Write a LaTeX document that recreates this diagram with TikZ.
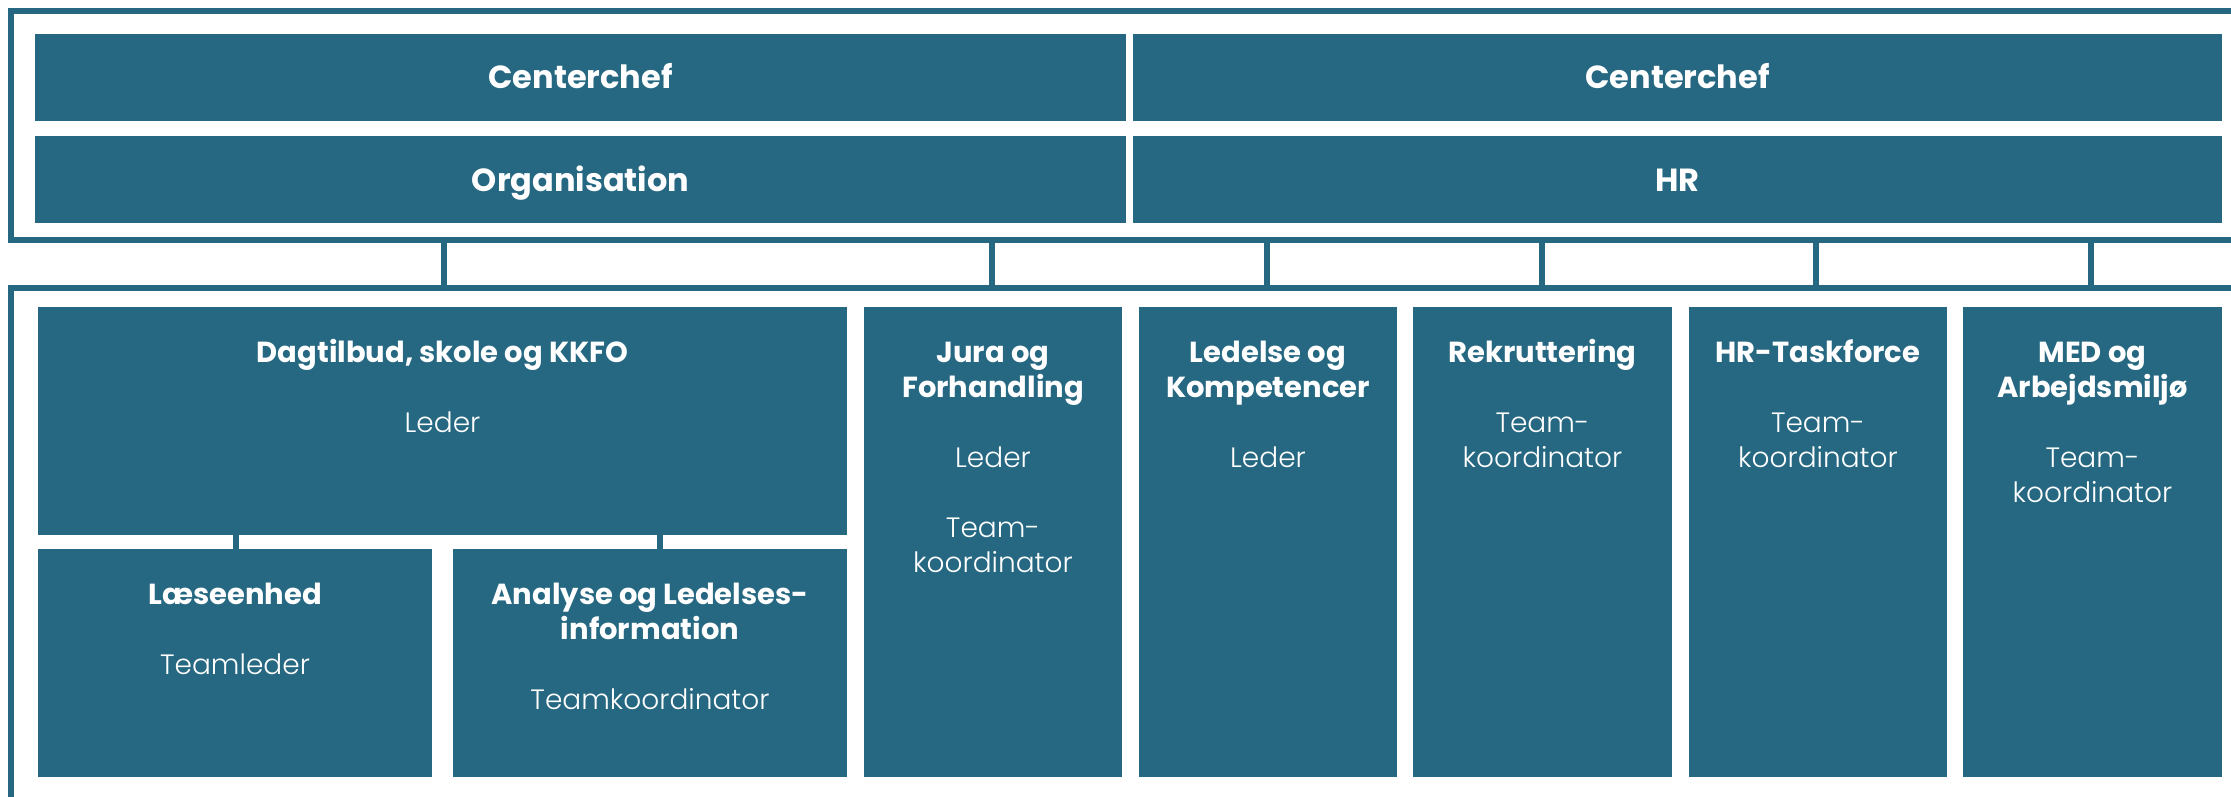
\documentclass[tikz,border=0pt]{standalone}
\usepackage{fontspec}
\setmainfont{Poppins}
\newfontfamily\lightfont{Poppins Light}
\definecolor{teal}{RGB}{38,104,130}
\newcommand{\ls}{\rule[-10pt]{0pt}{35pt}}
\newcommand{\tb}[1]{{\fontsize{29}{35}\selectfont\bfseries\ls#1}}
\newcommand{\tl}[1]{{\lightfont\ls#1}}
\tikzset{
  box/.style={fill=teal, inner sep=0pt, outer sep=0pt},
  txt/.style={text=white, inner sep=0pt, align=center, font=\fontsize{28}{35}\selectfont},
  toptxt/.style={text=white, inner sep=0pt, font=\fontsize{32}{38}\selectfont\bfseries},
  frame/.style={draw=teal, line width=6pt},
  conn/.style={draw=teal, line width=5.5pt}
}
\begin{document}
\begin{tikzpicture}[x=1pt,y=-1pt]
\useasboundingbox (0,0) rectangle (2231,797);
\clip (0,0) rectangle (2231,797);
% frames
\draw[frame] (2260,11) -- (11,11) -- (11,240) -- (2260,240);
\draw[frame] (2260,287.5) -- (10.5,287.5) -- (10.5,830);
\coordinate (tfb) at (0,243);
\coordinate (bft) at (0,284.5);
% top boxes
\node[box, minimum width=1091pt, minimum height=87pt] (cc1) at (580.5,77.5) {};
\node[box, minimum width=1089pt, minimum height=87pt] (cc2) at (1677.5,77.5) {};
\node[box, minimum width=1091pt, minimum height=87pt] (org) at (580.5,179.5) {};
\node[box, minimum width=1089pt, minimum height=87pt] (hr) at (1677.5,179.5) {};
\node[toptxt, anchor=base] (cc1t) at (580.5,89) {Centerchef};
\node[toptxt, anchor=base] (cc2t) at (1677.5,89) {Centerchef};
\node[toptxt, anchor=base] (orgt) at (580.5,191) {Organisation};
\node[toptxt, anchor=base] (hrt) at (1677.5,191) {HR};
% lower boxes
\node[box, minimum width=809pt, minimum height=228pt] (dag) at (442.5,421) {};
\node[box, minimum width=394pt, minimum height=228pt] (laese) at (235,663) {};
\node[box, minimum width=394pt, minimum height=228pt] (ana) at (650,663) {};
\node[box, minimum width=258pt, minimum height=470pt] (jura) at (993,542) {};
\node[box, minimum width=258pt, minimum height=470pt] (led) at (1268,542) {};
\node[box, minimum width=259pt, minimum height=470pt] (rek) at (1542.5,542) {};
\node[box, minimum width=258pt, minimum height=470pt] (hrtf) at (1818,542) {};
\node[box, minimum width=259pt, minimum height=470pt] (med) at (2092.5,542) {};
% texts
\node[txt, anchor=north] (dagt) at (442.5,337) {\tb{Dagtilbud, skole og KKFO}\\[35pt]\tl{Leder}};
\node[txt, anchor=north] (laeset) at (235,579) {\tb{Læseenhed}\\[35pt]\tl{Teamleder}};
\node[txt, anchor=north] (anat) at (650,579) {\tb{Analyse og Ledelses-}\\\tb{information}\\[35pt]\tl{Teamkoordinator}};
\node[txt, anchor=north] (jurat) at (993,337) {\tb{Jura og}\\\tb{Forhandling}\\[35pt]\tl{Leder}\\[35pt]\tl{Team-}\\\tl{koordinator}};
\node[txt, anchor=north] (ledt) at (1268,337) {\tb{Ledelse og}\\\tb{Kompetencer}\\[35pt]\tl{Leder}};
\node[txt, anchor=north] (rekt) at (1542.5,337) {\tb{Rekruttering}\\[35pt]\tl{Team-}\\\tl{koordinator}};
\node[txt, anchor=north] (hrtft) at (1818,337) {\tb{HR-Taskforce}\\[35pt]\tl{Team-}\\\tl{koordinator}};
\node[txt, anchor=north] (medt) at (2092.5,337) {\tb{MED og}\\\tb{Arbejdsmiljø}\\[35pt]\tl{Team-}\\\tl{koordinator}};
% connectors between frames
\foreach \n/\dx in {dag/1.5, jura/-1, led/-1, rek/-0.5, hrtf/-2, med/-1.5}
  \draw[conn] ([xshift=\dx pt]\n.north |- tfb) -- ([xshift=\dx pt]\n.north |- bft);
% connectors inside Dagtilbud group
\draw[conn] ([xshift=1pt]laese.north) -- ([xshift=1pt]laese.north |- dag.south);
\draw[conn] ([xshift=10pt]ana.north) -- ([xshift=10pt]ana.north |- dag.south);
\end{tikzpicture}
\end{document}
